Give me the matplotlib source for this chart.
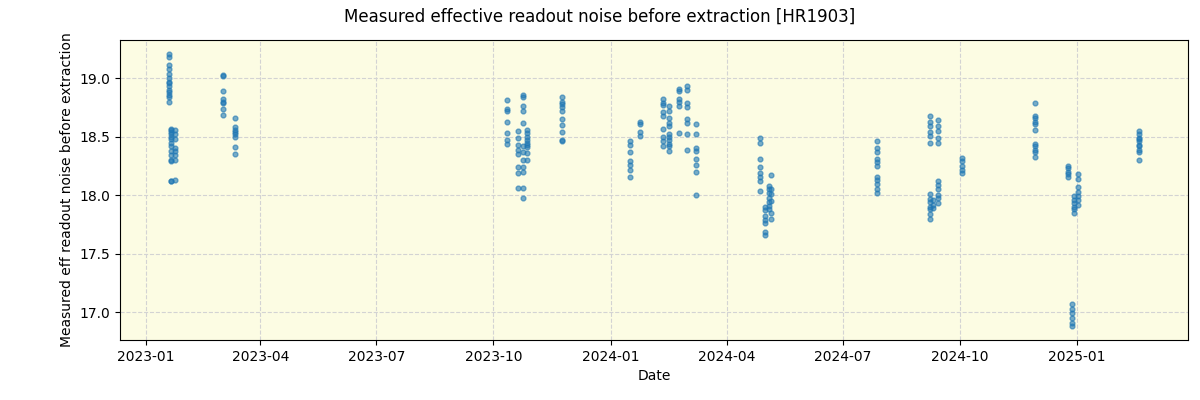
import matplotlib
matplotlib.use("Agg")
import matplotlib.pyplot as plt
import matplotlib.dates as mdates
import numpy as np
import pandas as pd

# observation nights and the noise values measured on each
obs_dates = [
    "2023-01-19", "2023-01-21", "2023-01-24", "2023-03-03", "2023-03-12",
    "2023-10-12", "2023-10-20", "2023-10-24", "2023-10-27", "2023-11-24",
    "2024-01-16", "2024-01-24", "2024-02-11", "2024-02-16", "2024-02-24",
    "2024-03-01", "2024-03-08", "2024-04-27", "2024-05-01", "2024-05-04",
    "2024-05-06", "2024-07-28", "2024-09-08", "2024-09-10", "2024-09-14",
    "2024-10-03", "2024-11-29", "2024-12-25", "2024-12-28", "2024-12-30",
    "2025-01-02", "2025-02-19",
]
noise_values = [
    [19.21, 19.18, 19.11, 19.08, 19.04, 19.00, 18.97, 18.96, 18.93, 18.90, 18.88, 18.86, 18.84, 18.80],
    [18.57, 18.56, 18.54, 18.52, 18.50, 18.48, 18.45, 18.42, 18.38, 18.34, 18.30, 18.29, 18.12, 18.12],
    [18.56, 18.52, 18.48, 18.40, 18.38, 18.34, 18.30, 18.13],
    [19.03, 19.02, 18.89, 18.82, 18.80, 18.79, 18.74, 18.69],
    [18.66, 18.58, 18.56, 18.54, 18.52, 18.50, 18.41, 18.35],
    [18.81, 18.74, 18.72, 18.63, 18.53, 18.47, 18.44],
    [18.55, 18.49, 18.43, 18.39, 18.35, 18.24, 18.19, 18.06],
    [18.86, 18.84, 18.76, 18.72, 18.62, 18.42, 18.37, 18.30, 18.24, 18.20, 18.06, 17.98],
    [18.56, 18.53, 18.47, 18.43, 18.41, 18.36, 18.30, 18.45, 18.50],
    [18.84, 18.80, 18.78, 18.75, 18.72, 18.65, 18.60, 18.54, 18.47, 18.46],
    [18.46, 18.43, 18.37, 18.29, 18.26, 18.22, 18.16],
    [18.63, 18.61, 18.54, 18.51],
    [18.82, 18.79, 18.77, 18.71, 18.68, 18.57, 18.50, 18.46, 18.42],
    [18.76, 18.72, 18.66, 18.62, 18.59, 18.52, 18.47, 18.42, 18.38, 18.50, 18.44],
    [18.91, 18.89, 18.82, 18.80, 18.76, 18.53],
    [18.93, 18.90, 18.79, 18.75, 18.65, 18.62, 18.52, 18.39],
    [18.61, 18.52, 18.40, 18.38, 18.31, 18.26, 18.20, 18.00],
    [18.49, 18.45, 18.31, 18.24, 18.19, 18.16, 18.12, 18.04],
    [17.90, 17.87, 17.82, 17.79, 17.76, 17.69, 17.66],
    [18.08, 18.05, 18.02, 17.98, 17.94, 17.91, 17.88],
    [18.17, 18.05, 18.01, 17.95, 17.85, 17.80],
    [18.46, 18.40, 18.37, 18.31, 18.28, 18.25, 18.16, 18.13, 18.10, 18.05, 18.02],
    [18.68, 18.63, 18.59, 18.54, 18.51, 18.45, 18.01, 17.97, 17.94, 17.90, 17.88, 17.84, 17.80],
    [17.96, 17.92, 17.89],
    [18.64, 18.59, 18.55, 18.49, 18.45, 18.12, 18.09, 18.05, 18.00, 17.98, 17.93],
    [18.32, 18.29, 18.25, 18.22, 18.19],
    [18.79, 18.68, 18.66, 18.63, 18.61, 18.56, 18.44, 18.42, 18.39, 18.37, 18.33],
    [18.25, 18.23, 18.20, 18.18, 18.16],
    [17.07, 17.03, 16.99, 16.95, 16.91, 16.88],
    [17.99, 17.96, 17.93, 17.90, 17.88, 17.85],
    [18.18, 18.14, 18.07, 18.03, 17.99, 17.96, 17.92],
    [18.55, 18.52, 18.49, 18.48, 18.46, 18.43, 18.42, 18.39, 18.37, 18.30],
]

x = []
y = []
for d, vals in zip(obs_dates, noise_values):
    x += [pd.Timestamp(d)] * len(vals)
    y += vals

fig = plt.figure(figsize=(12, 4), dpi=100)
ax = fig.add_axes([0.1, 0.15, 0.89, 0.75])
ax.set_facecolor('#fcfce3')
ax.scatter(x, y, s=12, color='tab:blue', alpha=0.6, zorder=3)

ax.xaxis.set_major_locator(mdates.MonthLocator(bymonth=[1, 4, 7, 10]))
ax.xaxis.set_major_formatter(mdates.DateFormatter('%Y-%m'))
ax.grid(True, linestyle='--', color='lightgray', linewidth=0.8)
ax.set_xlabel('Date')
ax.set_ylabel('Measured eff readout noise before extraction')
fig.suptitle('Measured effective readout noise before extraction [HR1903]', fontsize=12, y=0.98)

plt.savefig('out.png')
